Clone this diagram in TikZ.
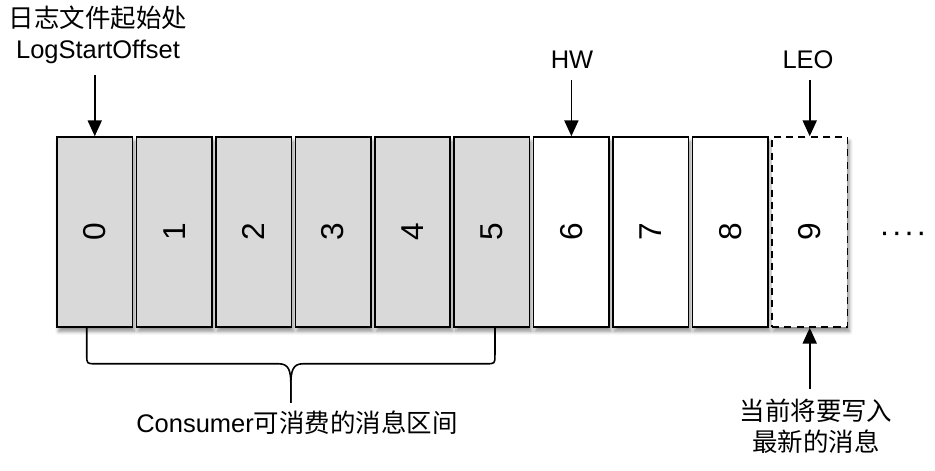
\documentclass[tikz,border=0pt]{standalone}
\usepackage{fontspec}
\setmainfont{Liberation Sans}
\newfontfamily\cjk{Noto Sans CJK SC}
\usetikzlibrary{arrows.meta,positioning,calc,shadows.blur}
\definecolor{cellgray}{RGB}{217,217,217}

\tikzset{
  cell/.style={draw=black, line width=0.9pt, minimum width=1.51cm, minimum height=3.8cm, inner sep=0pt,
    font=\fontsize{18}{20}\selectfont,
    blur shadow={shadow xshift=1pt, shadow yshift=-2.5pt, shadow blur steps=6, shadow opacity=45}},
  used/.style={cell, fill=cellgray},
  free/.style={cell, fill=white},
  pending/.style={cell, fill=white, dash pattern=on 4pt off 3pt},
  tag/.style={inner sep=0pt, font=\fontsize{14.5}{17.5}\selectfont, align=center},
  pointer/.style={-{Triangle[width=8pt,length=9pt]}, line width=0.9pt, shorten <=0.22cm},
}

\begin{document}
\begin{tikzpicture}[x=0.02cm, y=-0.02cm]
\useasboundingbox (0,0) rectangle (935,470);

% log cells
\foreach \i in {0,...,5}
  \node[used] (b\i) at ({94.75+\i*79.44},232) {\rotatebox{90}{\i}};
\foreach \i in {6,7,8}
  \node[free] (b\i) at ({94.75+\i*79.44},232) {\rotatebox{90}{\i}};
\node[pending] (b9) at ({94.75+9*79.44},232) {\rotatebox{90}{9}};
\node[anchor=base, inner sep=0pt, font=\fontsize{18}{20}\selectfont] (more) at (903,242)
  {·\kern1pt·\kern1pt·\kern1pt·};

% offsets
\node[tag, anchor=south] (lso) at (98,64) {{\cjk 日志文件起始处}\\LogStartOffset};
\node[tag, anchor=south] (hw) at (572,69) {HW};
\node[tag, anchor=south] (leo) at (808,69) {LEO};
\draw[pointer] (lso.south -| b0.north) -- (b0.north);
\draw[pointer] (hw.south -| b6.north) -- (b6.north);
\draw[pointer] (leo.south -| b9.north) -- (b9.north);

\node[tag, anchor=north, font=\fontsize{14.5}{17.5}\selectfont\cjk] (note) at (816,399)
  {当前将要写入\\最新的消息};
\draw[pointer, shorten <=0.2cm] (note.north -| b9.south) -- (b9.south);

% consumer range
\coordinate (bl) at ($(b0.south)+(-8,0)$);
\coordinate (br) at ($(b5.south)+(3,0)$);
\coordinate (btip) at ($(bl)!0.5!(br)+(0,75)$);
\draw[line width=0.9pt] (bl) -- ++(0,27) .. controls +(0,9) and +(-9,0) .. ++(9,9)
  -- ($(btip)+(-12,-39)$) .. controls +(10,0) and +(0,-14) .. ($(btip)+(0,-18)$) -- (btip);
\draw[line width=0.9pt] (btip) -- ($(btip)+(0,-18)$) .. controls +(0,-14) and +(-10,0) .. ($(btip)+(12,-39)$)
  -- ($(br)+(-9,36)$) .. controls +(9,0) and +(0,9) .. ($(br)+(0,27)$) -- (br);
\node[tag] (span) at (297,423) {Consumer{\cjk 可消费的消息区间}};
\end{tikzpicture}
\end{document}
